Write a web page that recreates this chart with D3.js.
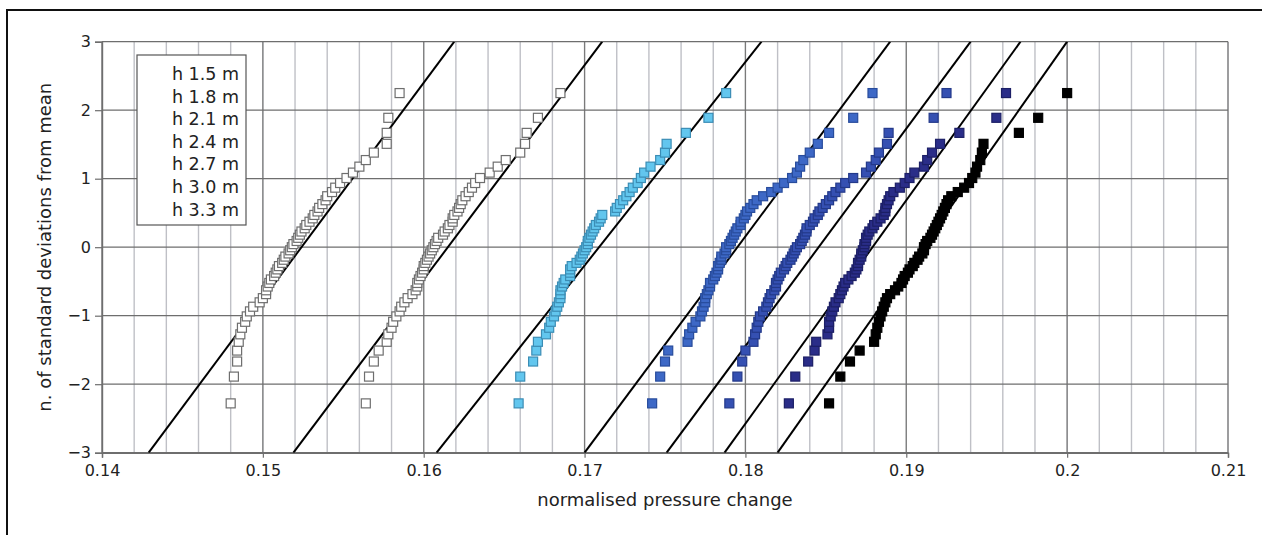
<!DOCTYPE html>
<html>
<head>
<meta charset="utf-8">
<script src="https://cdn.jsdelivr.net/npm/d3@7"></script>
<style>
  body { margin: 0; background: #fff; }
  svg { display: block; font-family: "DejaVu Sans", Verdana, sans-serif; }
</style>
</head>
<body>
<svg id="chart" width="1262" height="535"></svg>
<script>
// normal scores shared by every series (55 ranked points)
const quantiles = [
  -2.280, -1.889, -1.669, -1.509, -1.381, -1.272, -1.176, -1.089, -1.010, -0.937,
  -0.869, -0.805, -0.744, -0.685, -0.629, -0.574, -0.522, -0.471, -0.421, -0.372,
  -0.324, -0.276, -0.229, -0.183, -0.137, -0.091, -0.045, 0.000, 0.045, 0.091,
  0.137, 0.183, 0.229, 0.276, 0.324, 0.372, 0.421, 0.471, 0.522, 0.574,
  0.629, 0.685, 0.744, 0.805, 0.869, 0.937, 1.010, 1.089, 1.176, 1.272,
  1.381, 1.509, 1.669, 1.889, 2.250
];

const h15 = [
  0.1480, 0.1482, 0.1484, 0.1484, 0.1485, 0.1486, 0.1487, 0.1489, 0.1490, 0.1492,
  0.1494, 0.1498, 0.1500, 0.1502, 0.1502, 0.1503, 0.1504, 0.1505, 0.1507, 0.1508,
  0.1509, 0.1510, 0.1512, 0.1513, 0.1514, 0.1516, 0.1517, 0.1518, 0.1519, 0.1521,
  0.1522, 0.1523, 0.1524, 0.1526, 0.1527, 0.1529, 0.1531, 0.1532, 0.1534, 0.1535,
  0.1537, 0.1539, 0.1540, 0.1543, 0.1545, 0.1548, 0.1552, 0.1556, 0.1560, 0.1564,
  0.1569, 0.1577, 0.1577, 0.1578, 0.1585
];
const h18 = [
  0.1564, 0.1566, 0.1569, 0.1572, 0.1577, 0.1578, 0.1580, 0.1581, 0.1583, 0.1585,
  0.1586, 0.1588, 0.1590, 0.1593, 0.1595, 0.1596, 0.1596, 0.1597, 0.1598, 0.1599,
  0.1600, 0.1600, 0.1601, 0.1602, 0.1603, 0.1604, 0.1605, 0.1606, 0.1607, 0.1608,
  0.1609, 0.1612, 0.1613, 0.1615, 0.1616, 0.1618, 0.1618, 0.1619, 0.1621, 0.1622,
  0.1623, 0.1624, 0.1626, 0.1628, 0.1630, 0.1632, 0.1635, 0.1641, 0.1646, 0.1651,
  0.1660, 0.1663, 0.1664, 0.1671, 0.1685
];
const h21 = [
  0.1659, 0.1660, 0.1668, 0.1670, 0.1671, 0.1676, 0.1678, 0.1679, 0.1681, 0.1682,
  0.1683, 0.1684, 0.1685, 0.1685, 0.1685, 0.1686, 0.1687, 0.1688, 0.1691, 0.1691,
  0.1691, 0.1692, 0.1695, 0.1697, 0.1698, 0.1699, 0.1700, 0.1701, 0.1702, 0.1702,
  0.1703, 0.1704, 0.1705, 0.1706, 0.1707, 0.1709, 0.1710, 0.1711, 0.1719, 0.1720,
  0.1722, 0.1724, 0.1726, 0.1728, 0.1730, 0.1733, 0.1735, 0.1737, 0.1741, 0.1747,
  0.1750, 0.1751, 0.1763, 0.1777, 0.1788
];
const h24 = [
  0.1742, 0.1747, 0.1750, 0.1752, 0.1764, 0.1765, 0.1767, 0.1769, 0.1772, 0.1773,
  0.1774, 0.1775, 0.1775, 0.1776, 0.1777, 0.1778, 0.1778, 0.1780, 0.1781, 0.1782,
  0.1783, 0.1783, 0.1784, 0.1785, 0.1785, 0.1787, 0.1788, 0.1788, 0.1790, 0.1791,
  0.1792, 0.1793, 0.1794, 0.1795, 0.1797, 0.1797, 0.1799, 0.1800, 0.1801, 0.1803,
  0.1805, 0.1807, 0.1811, 0.1816, 0.1820, 0.1824, 0.1829, 0.1832, 0.1834, 0.1836,
  0.1840, 0.1845, 0.1852, 0.1867, 0.1879
];
const h27 = [
  0.1790, 0.1795, 0.1798, 0.1800, 0.1805, 0.1806, 0.1807, 0.1808, 0.1809, 0.1811,
  0.1813, 0.1814, 0.1815, 0.1816, 0.1818, 0.1819, 0.1819, 0.1820, 0.1821, 0.1822,
  0.1824, 0.1825, 0.1826, 0.1828, 0.1829, 0.1830, 0.1831, 0.1832, 0.1834, 0.1835,
  0.1836, 0.1837, 0.1838, 0.1838, 0.1840, 0.1842, 0.1843, 0.1845, 0.1846, 0.1848,
  0.1850, 0.1852, 0.1854, 0.1856, 0.1859, 0.1862, 0.1867, 0.1875, 0.1878, 0.1881,
  0.1883, 0.1888, 0.1889, 0.1917, 0.1925
];
const h30 = [
  0.1827, 0.1831, 0.1839, 0.1843, 0.1844, 0.1851, 0.1852, 0.1852, 0.1853, 0.1854,
  0.1855, 0.1856, 0.1858, 0.1859, 0.1860, 0.1861, 0.1862, 0.1864, 0.1866, 0.1868,
  0.1869, 0.1870, 0.1870, 0.1871, 0.1872, 0.1872, 0.1873, 0.1874, 0.1874, 0.1875,
  0.1875, 0.1876, 0.1877, 0.1879, 0.1880, 0.1882, 0.1884, 0.1886, 0.1887, 0.1887,
  0.1888, 0.1889, 0.1890, 0.1892, 0.1896, 0.1899, 0.1902, 0.1905, 0.1911, 0.1913,
  0.1916, 0.1921, 0.1933, 0.1956, 0.1962
];
const h33 = [
  0.1852, 0.1859, 0.1865, 0.1871, 0.1880, 0.1881, 0.1882, 0.1883, 0.1884, 0.1885,
  0.1886, 0.1887, 0.1888, 0.1890, 0.1893, 0.1895, 0.1897, 0.1898, 0.1899, 0.1901,
  0.1902, 0.1904, 0.1905, 0.1907, 0.1908, 0.1910, 0.1911, 0.1911, 0.1912, 0.1913,
  0.1915, 0.1916, 0.1917, 0.1918, 0.1919, 0.1920, 0.1921, 0.1922, 0.1923, 0.1924,
  0.1925, 0.1926, 0.1928, 0.1932, 0.1936, 0.1939, 0.1941, 0.1943, 0.1944, 0.1946,
  0.1947, 0.1948, 0.1970, 0.1982, 0.2000
];

const seriesNames = ["h 1.5 m", "h 1.8 m", "h 2.1 m", "h 2.4 m", "h 2.7 m", "h 3.0 m", "h 3.3 m"];
const seriesValues = [h15, h18, h21, h24, h27, h30, h33];
const fills = ["#ffffff", "#ffffff", "#62c6ee", "#3d68c6", "#3550b2", "#2a2d88", "#000000"];
const strokes = ["#6e6e6e", "#6e6e6e", "#3b8db5", "#284c9c", "#23398a", "#1c1f66", "#000000"];

// fitted normal lines: value at -3 and at +3 standard deviations
const fitLow = [0.1429, 0.1519, 0.1608, 0.1700, 0.1751, 0.1787, 0.1820];
const fitHigh = [0.1619, 0.1711, 0.1810, 0.1890, 0.1940, 0.1971, 0.2000];

const xTicks = [0.14, 0.15, 0.16, 0.17, 0.18, 0.19, 0.2, 0.21];
const yTicks = [-3, -2, -1, 0, 1, 2, 3];

const svg = d3.select("#chart");
const margin = { left: 102, right: 1228, top: 41.7, bottom: 452.7 };

const x = d3.scaleLinear().domain([0.14, 0.21]).range([margin.left, margin.right]);
const y = d3.scaleLinear().domain([-3, 3]).range([margin.bottom, margin.top]);

// outer frame (only left/top visible)
svg.append("rect")
  .attr("x", 7).attr("y", 10).attr("width", 1400).attr("height", 700)
  .attr("fill", "none").attr("stroke", "#111").attr("stroke-width", 2);

svg.append("clipPath").attr("id", "plot")
  .append("rect")
  .attr("x", margin.left).attr("y", margin.top)
  .attr("width", margin.right - margin.left).attr("height", margin.bottom - margin.top);

// minor vertical grid
const minor = d3.range(0, 36).map(i => 0.14 + i * 0.002);
svg.append("g").selectAll("line")
  .data(minor)
  .enter().append("line")
  .attr("x1", d => x(d)).attr("x2", d => x(d))
  .attr("y1", margin.top).attr("y2", margin.bottom)
  .attr("stroke", "#bfc0c6").attr("stroke-width", 1.4);

// major vertical grid
svg.append("g").selectAll("line")
  .data(xTicks)
  .enter().append("line")
  .attr("x1", d => x(d)).attr("x2", d => x(d))
  .attr("y1", margin.top).attr("y2", margin.bottom)
  .attr("stroke", "#7a7a7a").attr("stroke-width", 1.2);

// horizontal grid
svg.append("g").selectAll("line")
  .data(yTicks)
  .enter().append("line")
  .attr("x1", margin.left).attr("x2", margin.right)
  .attr("y1", d => y(d)).attr("y2", d => y(d))
  .attr("stroke", "#6e6e6e").attr("stroke-width", 1.2);

// axes
const xAxis = svg.append("g")
  .attr("transform", "translate(0," + margin.bottom + ")")
  .call(d3.axisBottom(x).tickValues(xTicks).tickSize(5).tickFormat(d3.format("")));
const yAxis = svg.append("g")
  .attr("transform", "translate(" + margin.left + ",0)")
  .call(d3.axisLeft(y).tickValues(yTicks).tickSize(7).tickFormat(d => d < 0 ? "\u2212" + Math.abs(d) : d));

[xAxis, yAxis].forEach(a => {
  a.select(".domain").attr("stroke", "#6e6e6e").attr("stroke-width", 1.4);
  a.selectAll(".tick line").attr("stroke", "#6e6e6e").attr("stroke-width", 1.2);
  a.selectAll("text").attr("fill", "#222").style("font-size", "16px")
    .style("font-family", "'DejaVu Sans', Verdana, sans-serif");
});
xAxis.selectAll("text").attr("dy", "0.95em");
yAxis.selectAll("text").attr("x", -11);

// fitted lines
svg.append("g").attr("clip-path", "url(#plot)").selectAll("line")
  .data(seriesNames.map((n, i) => i))
  .enter().append("line")
  .attr("x1", i => x(fitLow[i])).attr("y1", y(-3))
  .attr("x2", i => x(fitHigh[i])).attr("y2", y(3))
  .attr("stroke", "#000").attr("stroke-width", 2);

// points
const size = 9;
seriesValues.forEach((vals, i) => {
  svg.append("g").selectAll("rect")
    .data(vals.map((v, k) => [v, quantiles[k]]))
    .enter().append("rect")
    .attr("x", d => x(d[0]) - size / 2)
    .attr("y", d => y(d[1]) - size / 2)
    .attr("width", size).attr("height", size)
    .attr("fill", fills[i])
    .attr("stroke", strokes[i])
    .attr("stroke-width", 1.2);
});

// legend
const legend = svg.append("g");
legend.append("rect")
  .attr("x", 137).attr("y", 55).attr("width", 109).attr("height", 170)
  .attr("fill", "#fff").attr("stroke", "#555").attr("stroke-width", 1.2);
legend.selectAll("text")
  .data(seriesNames)
  .enter().append("text")
  .attr("x", 239)
  .attr("y", (d, i) => 80 + i * 22.6)
  .attr("text-anchor", "end")
  .style("font-size", "17.5px")
  .attr("fill", "#222")
  .text(d => d);

// axis titles
svg.append("text")
  .attr("x", (margin.left + margin.right) / 2 + 0)
  .attr("y", 506)
  .attr("text-anchor", "middle")
  .style("font-size", "18px")
  .attr("fill", "#222")
  .text("normalised pressure change");

svg.append("text")
  .attr("transform", "translate(51," + ((margin.top + margin.bottom) / 2) + ") rotate(-90)")
  .attr("text-anchor", "middle")
  .style("font-size", "18px")
  .attr("fill", "#222")
  .text("n. of standard deviations from mean");
</script>
</body>
</html>
